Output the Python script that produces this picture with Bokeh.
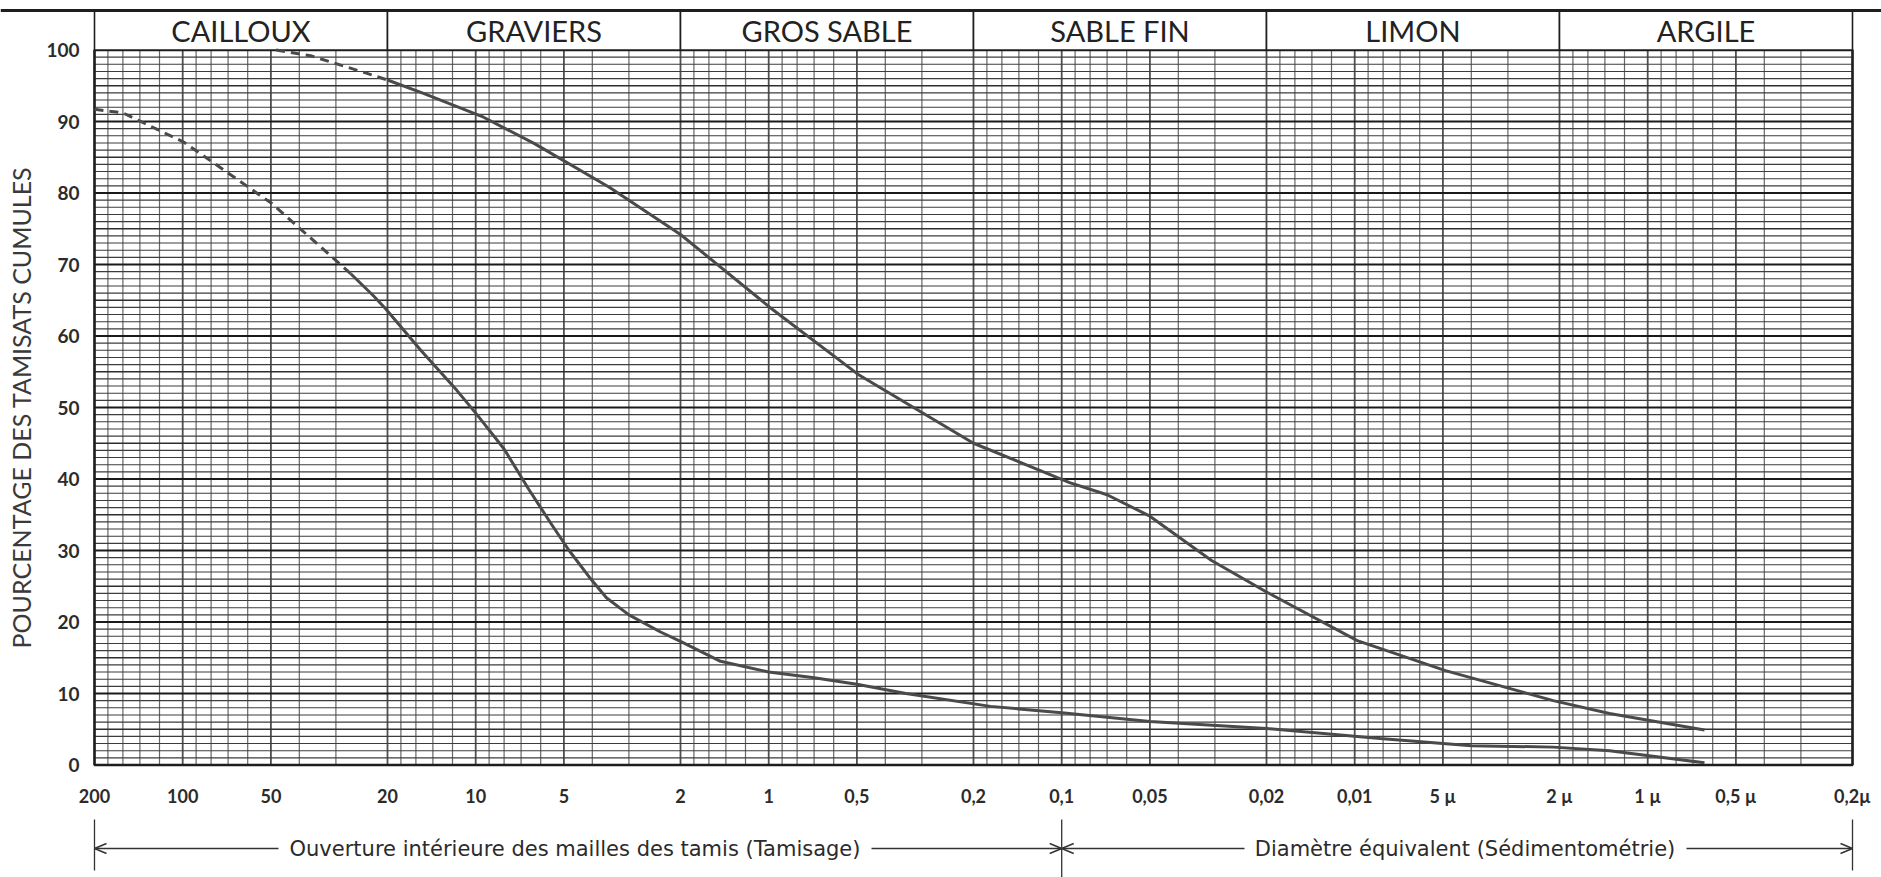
import math
from bokeh.plotting import figure
from bokeh.models import Range1d, ColumnDataSource
from bokeh.embed import file_html
from bokeh.resources import INLINE
from bokeh.core.properties import value

# ---------------- data ----------------
tick_values = [200, 100, 50, 20, 10, 5, 2, 1, 0.5, 0.2, 0.1, 0.05, 0.02, 0.01,
               0.005, 0.002, 0.001, 0.0005, 0.0002]
tick_labels = ["200", "100", "50", "20", "10", "5", "2", "1", "0,5", "0,2", "0,1",
               "0,05", "0,02", "0,01", "5 µ", "2 µ", "1 µ", "0,5 µ", "0,2µ"]
y_ticks = [0, 10, 20, 30, 40, 50, 60, 70, 80, 90, 100]
y_tick_labels = ["0", "10", "20", "30", "40", "50", "60", "70", "80", "90", "100"]

classes = ["CAILLOUX", "GRAVIERS", "GROS SABLE", "SABLE FIN", "LIMON", "ARGILE"]
class_from = [200, 20, 2, 0.2, 0.02, 0.002]
class_to = [20, 2, 0.2, 0.02, 0.002, 0.0002]

# log-paper rulings inside each decade (mantissas)
grid_mantissas = [2, 1.8, 1.6, 1.4, 1.2, 1, 0.9, 0.8, 0.7, 0.6, 0.5, 0.4, 0.3]
grid_heavy = [2, 1, 0.5]
decade_exponents = [2, 1, 0, -1, -2, -3]

# curve 1 (upper)
upper_dash_x = [48, 36.6, 24.2, 20]
upper_dash_y = [100, 99.2, 96.9, 95.8]
upper_x = [20, 15, 9.4, 6.3, 3.5, 2.0, 0.97, 0.49, 0.2, 0.094, 0.07, 0.05, 0.0308,
           0.02, 0.0098, 0.0049, 0.0021, 0.00135, 0.00064]
upper_y = [95.8, 93.9, 90.6, 86.9, 80.8, 74.2, 63.7, 54.5, 45.0, 39.5, 37.8, 34.8, 28.6,
           24.2, 17.4, 13.2, 9.0, 7.2, 4.9]

# curve 2 (lower)
lower_dash_x = [200, 160, 99, 49.5, 26.7]
lower_dash_y = [91.7, 91.2, 87.1, 78.5, 68.7]
lower_x = [26.7, 22.3, 20.3, 15.4, 11.6, 9.9, 8.0, 6.6, 5.5, 4.8, 4.1, 3.58, 3.0, 2.34,
           2.0, 1.46, 1.0, 0.7, 0.5, 0.34, 0.175, 0.1, 0.05, 0.02, 0.0082, 0.004,
           0.0021, 0.00135, 0.00064]
lower_y = [68.7, 65.6, 63.8, 58.0, 52.4, 49.0, 44.2, 38.6, 33.6, 30.0, 26.3, 23.4, 21.0, 18.6,
           17.3, 14.5, 13.0, 12.2, 11.3, 10.0, 8.2, 7.3, 6.1, 5.1, 3.7, 2.7,
           2.5, 2.0, 0.3]

y_title = "POURCENTAGE DES TAMISATS CUMULES"
left_note = "Ouverture intérieure des mailles des tamis (Tamisage)"
right_note = "Diamètre équivalent (Sédimentométrie)"

# ---------------- layout (pixels on the page) ----------------
W, H = 1881, 877
LEFT, RIGHT = 94, 29            # grid frame: left edge / gap to right edge
Y100_PX, Y0_PX = 49.5, 764.5    # rows of the 100 % and 0 % lines
HEADER_PX = 39.5                # height of the class header strip
X_MAX, X_MIN = 200, 0.0002

ppd = (W - LEFT - RIGHT) / math.log10(X_MAX / X_MIN)   # pixels per decade
ppu = (Y0_PX - Y100_PX) / 100.0                        # pixels per percent


def xpx(px):
    """data x at page column px"""
    return X_MAX / 10 ** ((px - LEFT) / ppd)


def ypx(py):
    """data y at page row py"""
    return (Y0_PX - py) / ppu


HDR_TOP = 100 + HEADER_PX / ppu

p = figure(width=W, height=H, x_axis_type="log",
           x_range=Range1d(xpx(0), xpx(W)), y_range=Range1d(ypx(H), ypx(0)),
           output_backend="svg", toolbar_location=None,
           x_axis_location=None, y_axis_location=None,
           min_border_left=0, min_border_right=0, min_border_top=0, min_border_bottom=0)
p.title.visible = False
p.outline_line_color = None
p.xgrid.visible = False
p.ygrid.visible = False
p.background_fill_color = "white"
p.border_fill_color = "white"

INK = "#1e1e1e"
TXT = "#2b2b2b"

# ---------------- log-paper grid ----------------
major_x, minor_x = [], []
for e in decade_exponents:
    for m in grid_mantissas:
        (major_x if m in grid_heavy else minor_x).append(m * 10 ** e)
major_x.append(X_MIN)

p.segment(x0=minor_x, y0=[0] * len(minor_x), x1=minor_x, y1=[100] * len(minor_x),
          line_color="#666666", line_width=1.2)
p.segment(x0=major_x, y0=[0] * len(major_x), x1=major_x, y1=[100] * len(major_x),
          line_color="#505050", line_width=1.8)

pct_minor = [v for v in range(0, 101) if v % 5]
pct_mid = [v for v in range(5, 100, 10)]
p.segment(x0=[X_MAX] * len(pct_minor), y0=pct_minor, x1=[X_MIN] * len(pct_minor),
          y1=pct_minor, line_color="#3c3c3c", line_width=1.1)
p.segment(x0=[X_MAX] * len(pct_mid), y0=pct_mid, x1=[X_MIN] * len(pct_mid),
          y1=pct_mid, line_color="#2e2e2e", line_width=1.5)
p.segment(x0=[X_MAX] * len(y_ticks), y0=y_ticks, x1=[X_MIN] * len(y_ticks),
          y1=y_ticks, line_color="#1a1a1a", line_width=2.2)
# frame
p.quad(left=[X_MAX], right=[X_MIN], bottom=[0], top=[100], fill_color=None,
       line_color=INK, line_width=2.5)

# ---------------- header strip ----------------
hsrc = ColumnDataSource(dict(left=class_from, right=class_to, name=classes,
                             xc=[math.sqrt(a * b) for a, b in zip(class_from, class_to)]))
p.quad(left="left", right="right", bottom=100, top=HDR_TOP, source=hsrc,
       fill_color="white", line_color=INK, line_width=1.6)
p.segment(x0=[xpx(0)], y0=[HDR_TOP], x1=[xpx(W)], y1=[HDR_TOP], line_color=INK, line_width=3)
p.text(x="xc", y=(100 + HDR_TOP) / 2, text="name", source=hsrc,
       text_font=value("Lato"), text_font_size="29px", text_color="#222222",
       text_align="center", text_baseline="middle")

# ---------------- curves ----------------
CURVE = "#4a4a4a"
p.line(upper_dash_x, upper_dash_y, line_color=CURVE, line_width=3, line_dash="9 6")
p.line(upper_x, upper_y, line_color=CURVE, line_width=3)
p.line(lower_dash_x, lower_dash_y, line_color=CURVE, line_width=3, line_dash="9 6")
p.line(lower_x, lower_y, line_color=CURVE, line_width=3)

# ---------------- tick labels ----------------
p.text(x=tick_values, y=[ypx(Y0_PX + 31)] * len(tick_values), text=tick_labels,
       text_font=value("Lato"), text_font_style="bold", text_font_size="18px",
       text_color=TXT, text_align="center", text_baseline="middle")
p.text(x=[xpx(LEFT - 15)] * len(y_ticks), y=y_ticks, text=y_tick_labels,
       text_font=value("Lato"), text_font_style="bold", text_font_size="19px",
       text_color=TXT, text_align="right", text_baseline="middle")
p.text(x=[xpx(20)], y=[50], text=[y_title], angle=math.pi / 2,
       text_font=value("Lato"), text_font_size="25px", text_color="#3a3a3a",
       text_align="center", text_baseline="middle")

# ---------------- bottom notes ----------------
NOTE_Y = ypx(848)
ARROW = "#333333"
p.text(x=[xpx(574.5), xpx(1464.5)], y=[NOTE_Y, NOTE_Y], text=[left_note, right_note],
       text_font=value("DejaVu Sans"), text_font_size="21px", text_color=TXT,
       text_align="center", text_baseline="middle")
p.segment(x0=[X_MAX, xpx(871), 0.1, xpx(1686)], y0=[NOTE_Y] * 4,
          x1=[xpx(278), 0.1, xpx(1244), X_MIN], y1=[NOTE_Y] * 4,
          line_color=ARROW, line_width=1.3)
p.segment(x0=[X_MAX, 0.1, X_MIN], y0=[ypx(819)] * 3, x1=[X_MAX, 0.1, X_MIN],
          y1=[ypx(870), ypx(877), ypx(870)], line_color=ARROW, line_width=1.3)
head_tip = [X_MAX, 0.1, 0.1, X_MIN]
head_dir = [1, -1, 1, -1]      # +1: head points toward the coarse (left) side
k = 10 ** (12 / ppd)
dy = 5 / ppu
xs, ys = [], []
for tip, d in zip(head_tip, head_dir):
    back = tip / k if d == 1 else tip * k
    xs.append([back, tip, back])
    ys.append([NOTE_Y + dy, NOTE_Y, NOTE_Y - dy])
p.multi_line(xs, ys, line_color=ARROW, line_width=1.5)

open("out.html", "w").write(file_html(p, INLINE))
